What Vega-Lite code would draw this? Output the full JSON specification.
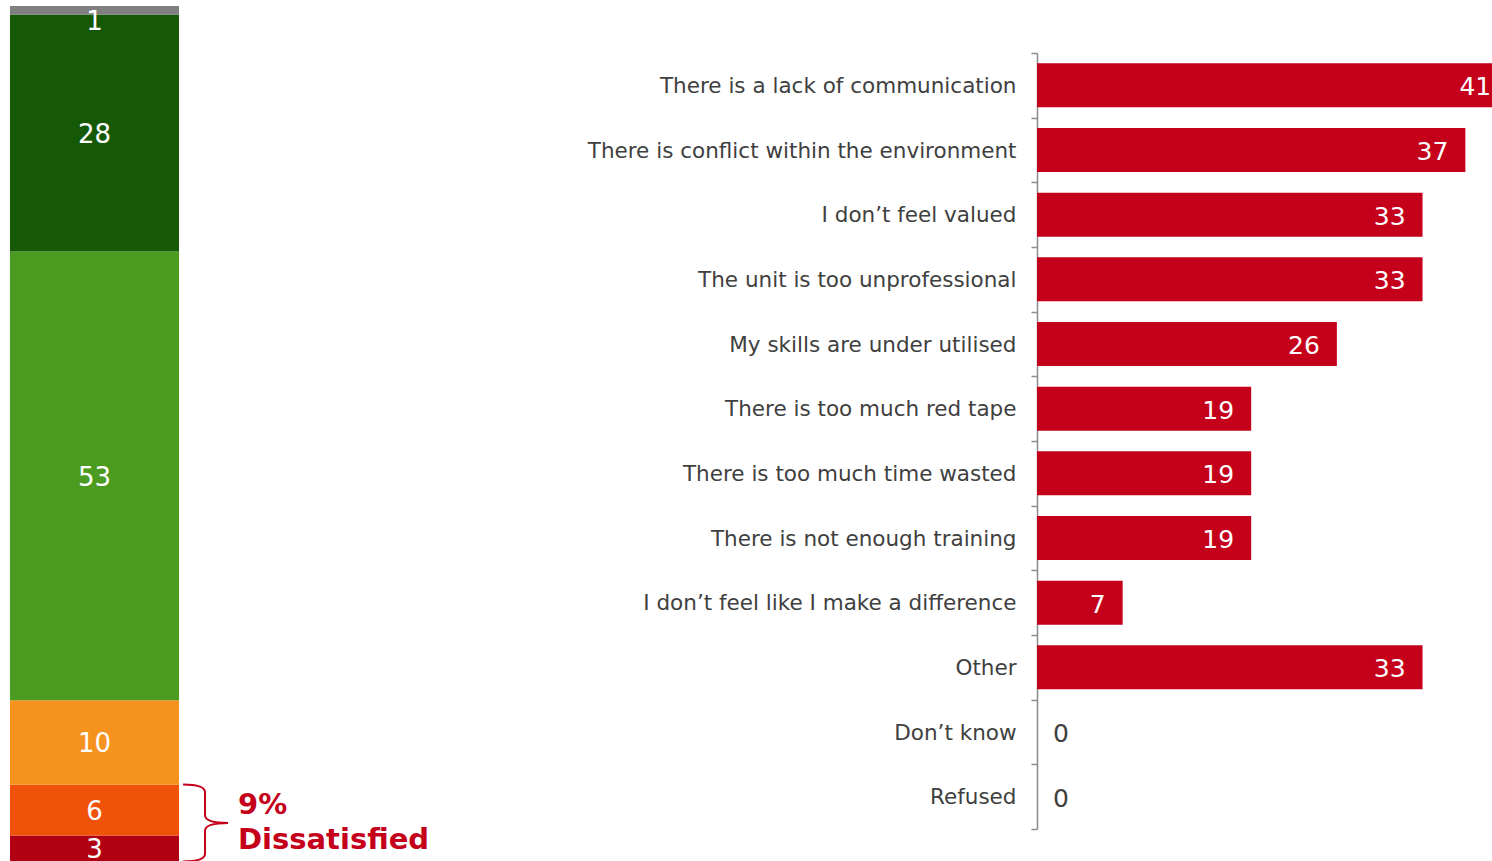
{
  "$schema": "https://vega.github.io/schema/vega-lite/v6.json",
  "padding": {"left": 10, "top": -5, "right": 0, "bottom": 0},
  "config": {"view": {"stroke": null}, "font": "DejaVu Sans"},
  "spacing": 858,
  "bounds": "flush",
  "hconcat": [
    {
      "width": 169,
      "height": 855,
      "layer": [
        {
          "data": {"values": [
            {"segment": "Very dissatisfied", "value": 3, "rank": 1},
            {"segment": "Fairly dissatisfied", "value": 6, "rank": 2},
            {"segment": "Neither satisfied nor dissatisfied", "value": 10, "rank": 3},
            {"segment": "Fairly satisfied", "value": 53, "rank": 4},
            {"segment": "Very satisfied", "value": 28, "rank": 5},
            {"segment": "Don't know", "value": 1, "rank": 6}
          ]},
          "transform": [
            {"stack": "value", "groupby": [], "sort": [{"field": "rank", "order": "ascending"}], "as": ["y0", "y1"]},
            {"calculate": "min((datum.y0 + datum.y1) / 2, 99.3)", "as": "ymid"}
          ],
          "layer": [
            {
              "mark": {"type": "bar"},
              "encoding": {
                "x": {"datum": 0, "type": "quantitative", "scale": {"domain": [0, 1], "nice": false, "zero": false}, "axis": null},
                "x2": {"datum": 1},
                "y": {"field": "y0", "type": "quantitative", "scale": {"domain": [0, 101], "nice": false}, "axis": null},
                "y2": {"field": "y1"},
                "color": {
                  "field": "segment", "type": "nominal", "legend": null,
                  "scale": {
                    "domain": ["Very dissatisfied", "Fairly dissatisfied", "Neither satisfied nor dissatisfied", "Fairly satisfied", "Very satisfied", "Don't know"],
                    "range": ["#B00012", "#F0520A", "#F6921E", "#4A9B1F", "#155907", "#808080"]
                  }
                }
              }
            },
            {
              "mark": {"type": "text", "color": "#FFFFFF", "fontSize": 26, "align": "center", "baseline": "middle", "dy": 2},
              "encoding": {
                "x": {"datum": 0.5, "type": "quantitative"},
                "y": {"field": "ymid", "type": "quantitative"},
                "text": {"field": "value", "type": "quantitative"}
              }
            }
          ]
        },
        {
          "data": {"values": [{"note": "brace"}]},
          "mark": {
            "type": "point",
            "shape": "M -0.57 -1 Q 0 -1 0 -0.8 L 0 -0.2 Q 0 0 0.6 0 Q 0 0 0 0.2 L 0 0.8 Q 0 1 -0.57 1",
            "filled": false,
            "color": "#C5001A",
            "strokeWidth": 2,
            "opacity": 1,
            "size": 5929
          },
          "encoding": {
            "x": {"datum": 1.154, "type": "quantitative"},
            "y": {"datum": 4.5, "type": "quantitative"}
          }
        },
        {
          "data": {"values": [{"note": "9% Dissatisfied"}]},
          "mark": {
            "type": "text",
            "text": ["9%", "Dissatisfied"],
            "lineHeight": 35,
            "color": "#C5001A",
            "fontSize": 29,
            "fontWeight": "bold",
            "align": "left",
            "baseline": "middle",
            "dy": 1.5
          },
          "encoding": {
            "x": {"datum": 1.349, "type": "quantitative"},
            "y": {"datum": 6.85, "type": "quantitative"}
          }
        }
      ]
    },
    {
      "width": 455,
      "height": 855,
      "data": {"values": [
        {"reason": "There is a lack of communication", "value": 40.7},
        {"reason": "There is conflict within the environment", "value": 37.0},
        {"reason": "I don’t feel valued", "value": 33.3},
        {"reason": "The unit is too unprofessional", "value": 33.3},
        {"reason": "My skills are under utilised", "value": 25.9},
        {"reason": "There is too much red tape", "value": 18.5},
        {"reason": "There is too much time wasted", "value": 18.5},
        {"reason": "There is not enough training", "value": 18.5},
        {"reason": "I don’t feel like I make a difference", "value": 7.4},
        {"reason": "Other", "value": 33.3},
        {"reason": "Don’t know", "value": 0},
        {"reason": "Refused", "value": 0}
      ]},
      "encoding": {
        "y": {
          "field": "reason", "type": "nominal", "sort": null,
          "scale": {"range": [47, 823], "paddingInner": 0, "paddingOuter": 0},
          "axis": {
            "title": null,
            "domainColor": "#8C8C8C",
            "domainWidth": 1.5,
            "tickColor": "#8C8C8C",
            "tickWidth": 1.5,
            "tickSize": 6,
            "tickBand": "extent",
            "labelFontSize": 21.5,
            "labelColor": "#404040",
            "labelPadding": 15,
            "labelOffset": 1,
            "labelLimit": 0
          }
        }
      },
      "layer": [
        {
          "mark": {"type": "bar", "color": "#C5001A", "clip": true, "height": {"band": 0.68}},
          "encoding": {
            "x": {"field": "value", "type": "quantitative", "scale": {"domain": [0, 39.3], "nice": false}, "axis": null}
          }
        },
        {
          "transform": [{"filter": "datum.value > 0"}],
          "mark": {"type": "text", "color": "#FFFFFF", "fontSize": 25, "align": "right", "baseline": "middle", "dx": -17, "dy": 2},
          "encoding": {
            "x": {"field": "value", "type": "quantitative"},
            "text": {"field": "value", "type": "quantitative", "format": ".0f"}
          }
        },
        {
          "transform": [{"filter": "datum.value == 0"}],
          "mark": {"type": "text", "color": "#404040", "fontSize": 25, "align": "left", "baseline": "middle", "dx": 16, "dy": 2},
          "encoding": {
            "x": {"field": "value", "type": "quantitative"},
            "text": {"field": "value", "type": "quantitative", "format": ".0f"}
          }
        }
      ]
    }
  ]
}
